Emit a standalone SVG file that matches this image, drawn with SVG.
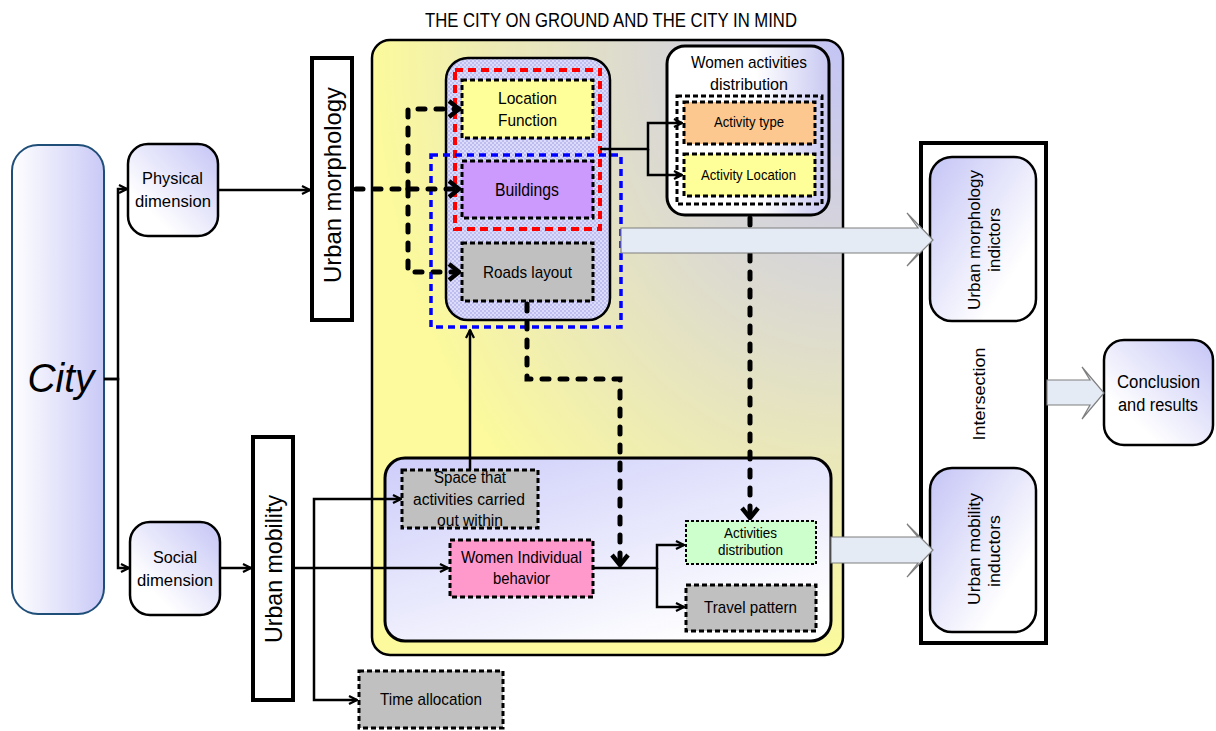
<svg xmlns="http://www.w3.org/2000/svg" width="1216" height="731" viewBox="0 0 1216 731">
  <style>
    .t { font-family: "Liberation Sans Narrow", "Liberation Sans", Arial, sans-serif; fill: #000; text-anchor: middle; }
    .frame { stroke: #000; stroke-width: 2.5; }
    .bar { fill: #fff; stroke: #000; stroke-width: 4; }
    .dn { stroke: #000; stroke-width: 3; stroke-dasharray: 5 3; }
    .thin { fill: none; stroke: #000; stroke-width: 2.5; }
    .thick { fill: none; stroke: #000; stroke-width: 5; stroke-dasharray: 7 11; stroke-linecap: round; }
    .blk { fill: #e4ebf5; stroke: #7f7f7f; stroke-width: 1.2; }
  </style>
  <defs>
    <marker id="ah" viewBox="0 0 10 10" refX="9" refY="5" markerWidth="10" markerHeight="10" markerUnits="userSpaceOnUse" orient="auto">
      <path d="M1,1 L9,5 L1,9" fill="none" stroke="#000" stroke-width="2.2"/>
    </marker>
    <marker id="ahb" viewBox="0 0 14 20" refX="12" refY="10" markerWidth="14" markerHeight="20" markerUnits="userSpaceOnUse" orient="auto">
      <path d="M2,2 L12,10 L2,18" fill="none" stroke="#000" stroke-width="4.5"/>
    </marker>
    <linearGradient id="gCity" x1="0" y1="0" x2="1" y2="0">
      <stop offset="0" stop-color="#ffffff"/>
      <stop offset="1" stop-color="#c9c9f7"/>
    </linearGradient>
    <linearGradient id="gTR" x1="1" y1="0" x2="0" y2="1">
      <stop offset="0" stop-color="#c4c4f6"/>
      <stop offset="0.75" stop-color="#ffffff"/>
    </linearGradient>
    <linearGradient id="gTL" x1="0" y1="0" x2="1" y2="1">
      <stop offset="0" stop-color="#c4c4f6"/>
      <stop offset="0.75" stop-color="#ffffff"/>
    </linearGradient>
    <linearGradient id="gWA" x1="0" y1="0" x2="1" y2="0">
      <stop offset="0" stop-color="#ffffff"/>
      <stop offset="0.55" stop-color="#ffffff"/>
      <stop offset="1" stop-color="#c8c8f2"/>
    </linearGradient>
    <linearGradient id="gLow" x1="0" y1="0" x2="0.7" y2="1">
      <stop offset="0" stop-color="#cdcdfa"/>
      <stop offset="1" stop-color="#ffffff"/>
    </linearGradient>
    <radialGradient id="gMain" cx="1" cy="0" r="1" fx="1" fy="0">
      <stop offset="0" stop-color="#c4c4f6"/>
      <stop offset="0.5" stop-color="#dfddcb"/>
      <stop offset="1" stop-color="#fcfa9c"/>
    </radialGradient>
    <pattern id="hatch" width="4" height="4" patternUnits="userSpaceOnUse">
      <rect width="4" height="4" fill="#bdbdf0"/>
      <rect width="2" height="2" fill="#dcdcfa"/>
      <rect x="2" y="2" width="2" height="2" fill="#dcdcfa"/>
    </pattern>
  </defs>

  <text class="t" x="611" y="27" font-size="20" textLength="372" lengthAdjust="spacingAndGlyphs">THE CITY ON GROUND AND THE CITY IN MIND</text>

  <!-- main container -->
  <g id="city-in-mind">
    <rect x="372" y="40" width="471" height="615" rx="18" fill="url(#gMain)" class="frame"/>
  </g>

  <!-- morphology group -->
  <g id="morphology-group">
    <rect x="446" y="58" width="164" height="262" rx="22" fill="url(#hatch)" class="frame"/>
  </g>
  <g id="location-function">
    <rect x="462" y="80" width="131" height="58" fill="#ffff99" class="dn"/>
    <text class="t" x="527.5" y="104" font-size="17" textLength="59" lengthAdjust="spacingAndGlyphs">Location</text>
    <text class="t" x="527.5" y="125.5" font-size="17" textLength="59" lengthAdjust="spacingAndGlyphs">Function</text>
  </g>
  <g id="buildings">
    <rect x="462" y="161" width="131" height="57" fill="#cc99fc" class="dn"/>
    <text class="t" x="527" y="195.5" font-size="18" textLength="64" lengthAdjust="spacingAndGlyphs">Buildings</text>
  </g>
  <g id="roads-layout">
    <rect x="462" y="243" width="131" height="58" fill="#c0c0c0" class="dn"/>
    <text class="t" x="527.5" y="278" font-size="17" textLength="89" lengthAdjust="spacingAndGlyphs">Roads layout</text>
  </g>
  <rect id="red-frame" x="455" y="70" width="145" height="159" fill="none" stroke="#ff0000" stroke-width="4" stroke-dasharray="8 5"/>
  <rect id="blue-frame" x="431" y="155" width="190" height="172" fill="none" stroke="#0000ff" stroke-width="3.5" stroke-dasharray="7 5"/>

  <!-- women activities distribution -->
  <g id="women-activities">
    <rect x="667" y="46" width="162" height="169" rx="18" fill="url(#gWA)" stroke="#000" stroke-width="3"/>
    <text class="t" x="749" y="68" font-size="17" textLength="116" lengthAdjust="spacingAndGlyphs">Women activities</text>
    <text class="t" x="749" y="90" font-size="17" textLength="78" lengthAdjust="spacingAndGlyphs">distribution</text>
    <rect x="677" y="96" width="145" height="108" fill="none" class="dn"/>
  </g>
  <g id="activity-type">
    <rect x="684" y="102" width="131" height="42" fill="#fcc890" class="dn"/>
    <text class="t" x="749" y="127" font-size="14" textLength="70" lengthAdjust="spacingAndGlyphs">Activity type</text>
  </g>
  <g id="activity-location">
    <rect x="684" y="154" width="131" height="42" fill="#ffff99" class="dn"/>
    <text class="t" x="748.5" y="180" font-size="14" textLength="95" lengthAdjust="spacingAndGlyphs">Activity Location</text>
  </g>

  <!-- mobility group -->
  <g id="mobility-group">
    <rect x="385" y="458" width="446" height="183" rx="20" fill="url(#gLow)" stroke="#000" stroke-width="3"/>
  </g>
  <g id="space-activities">
    <rect x="402" y="470" width="136" height="58" fill="#c0c0c0" class="dn"/>
    <text class="t" x="470" y="483" font-size="16" textLength="72" lengthAdjust="spacingAndGlyphs">Space that</text>
    <text class="t" x="469" y="505" font-size="16" textLength="112" lengthAdjust="spacingAndGlyphs">activities carried</text>
    <text class="t" x="470" y="526" font-size="16" textLength="66" lengthAdjust="spacingAndGlyphs">out within</text>
  </g>
  <g id="women-behavior">
    <rect x="450" y="540" width="143" height="57" fill="#ff99cc" class="dn"/>
    <text class="t" x="521.5" y="563" font-size="17" textLength="121" lengthAdjust="spacingAndGlyphs">Women Individual</text>
    <text class="t" x="521.5" y="584" font-size="17" textLength="57" lengthAdjust="spacingAndGlyphs">behavior</text>
  </g>
  <g id="activities-distribution">
    <rect x="686" y="521" width="130" height="43" fill="#ccffcc" stroke="#000" stroke-width="2" stroke-dasharray="3 2"/>
    <text class="t" x="750.5" y="538" font-size="14" textLength="53" lengthAdjust="spacingAndGlyphs">Activities</text>
    <text class="t" x="750.5" y="555" font-size="14" textLength="65" lengthAdjust="spacingAndGlyphs">distribution</text>
  </g>
  <g id="travel-pattern">
    <rect x="686" y="585" width="130" height="46" fill="#c0c0c0" class="dn"/>
    <text class="t" x="750.5" y="613" font-size="17" textLength="93" lengthAdjust="spacingAndGlyphs">Travel pattern</text>
  </g>
  <g id="time-allocation">
    <rect x="359" y="671" width="144" height="57" fill="#c0c0c0" class="dn"/>
    <text class="t" x="431" y="705" font-size="17" textLength="102" lengthAdjust="spacingAndGlyphs">Time allocation</text>
  </g>

  <!-- left side -->
  <g id="city">
    <rect x="12" y="145" width="92" height="469" rx="26" fill="url(#gCity)" stroke="#1f4e79" stroke-width="2"/>
    <text class="t" x="61" y="392" font-size="41" font-style="italic" textLength="67" lengthAdjust="spacingAndGlyphs">City</text>
  </g>
  <g id="physical-dimension">
    <rect x="128" y="144" width="90" height="92" rx="20" fill="url(#gTR)" class="frame"/>
    <text class="t" x="172.5" y="184" font-size="17" textLength="61" lengthAdjust="spacingAndGlyphs">Physical</text>
    <text class="t" x="173" y="206.5" font-size="17" textLength="76" lengthAdjust="spacingAndGlyphs">dimension</text>
  </g>
  <g id="social-dimension">
    <rect x="130" y="522" width="90" height="93" rx="20" fill="url(#gTR)" class="frame"/>
    <text class="t" x="175" y="563" font-size="17" textLength="44" lengthAdjust="spacingAndGlyphs">Social</text>
    <text class="t" x="175" y="586" font-size="17" textLength="76" lengthAdjust="spacingAndGlyphs">dimension</text>
  </g>
  <g id="urban-morphology">
    <rect x="312" y="58" width="40" height="262" class="bar"/>
    <text class="t" transform="translate(341,185) rotate(-90)" font-size="24" textLength="196" lengthAdjust="spacingAndGlyphs">Urban morphology</text>
  </g>
  <g id="urban-mobility">
    <rect x="253" y="437" width="40" height="263" class="bar"/>
    <text class="t" transform="translate(282,569) rotate(-90)" font-size="24" textLength="148" lengthAdjust="spacingAndGlyphs">Urban mobility</text>
  </g>

  <!-- right side -->
  <g id="intersection">
    <rect x="921" y="143" width="125" height="500" class="bar"/>
    <text class="t" transform="translate(985,394) rotate(-90)" font-size="17" textLength="93" lengthAdjust="spacingAndGlyphs">Intersection</text>
  </g>
  <g id="morphology-indicators">
    <rect x="930" y="157" width="106" height="164" rx="22" fill="url(#gTL)" class="frame"/>
    <text class="t" transform="translate(980,240) rotate(-90)" font-size="17" textLength="140" lengthAdjust="spacingAndGlyphs">Urban morphology</text>
    <text class="t" transform="translate(1000,240) rotate(-90)" font-size="17" textLength="64" lengthAdjust="spacingAndGlyphs">indictors</text>
  </g>
  <g id="mobility-inductors">
    <rect x="930" y="468" width="106" height="164" rx="22" fill="url(#gTL)" class="frame"/>
    <text class="t" transform="translate(980,549) rotate(-90)" font-size="17" textLength="112" lengthAdjust="spacingAndGlyphs">Urban mobility</text>
    <text class="t" transform="translate(1000,551) rotate(-90)" font-size="17" textLength="72" lengthAdjust="spacingAndGlyphs">inductors</text>
  </g>
  <g id="conclusion">
    <rect x="1104" y="340" width="109" height="105" rx="20" fill="url(#gTR)" class="frame"/>
    <text class="t" x="1158.5" y="388" font-size="18" textLength="83" lengthAdjust="spacingAndGlyphs">Conclusion</text>
    <text class="t" x="1158" y="411" font-size="18" textLength="80" lengthAdjust="spacingAndGlyphs">and results</text>
  </g>

  <!-- connectors -->
  <g id="connectors">
    <path class="thin" d="M104,379 H118 V189 H127" marker-end="url(#ah)"/>
    <path class="thin" d="M104,379 H118 V568 H129" marker-end="url(#ah)"/>
    <path class="thin" d="M218,190 H310" marker-end="url(#ah)"/>
    <path class="thin" d="M220,568 H251" marker-end="url(#ah)"/>
    <path class="thin" d="M293,568 H448" marker-end="url(#ah)"/>
    <path class="thin" d="M314,568 V499 H401" marker-end="url(#ah)"/>
    <path class="thin" d="M314,568 V700 H357" marker-end="url(#ah)"/>
    <path class="thin" d="M470,470 V330" marker-end="url(#ah)"/>
    <path class="thin" d="M600,149 H648 V123 H682" marker-end="url(#ah)"/>
    <path class="thin" d="M648,149 V175 H682" marker-end="url(#ah)"/>
    <path class="thin" d="M594,568 H657 V545 H684" marker-end="url(#ah)"/>
    <path class="thin" d="M657,568 V607 H684" marker-end="url(#ah)"/>

    <path class="thick" d="M356,189 H459" marker-end="url(#ahb)"/>
    <path class="thick" d="M408,189 V109 H459" marker-end="url(#ahb)"/>
    <path class="thick" d="M408,189 V272 H459" marker-end="url(#ahb)"/>
    <path class="thick" d="M527,304 V379 H620 V565" marker-end="url(#ahb)"/>
    <path class="thick" d="M750,218 V518" marker-end="url(#ahb)"/>

    <polygon class="blk" points="621,228 918,228 907,213 933,240 907,266 918,253 621,253"/>
    <polygon class="blk" points="831,537 918,537 907,524 933,550 907,577 918,563 831,563"/>
    <polygon class="blk" points="1047,380 1090,380 1082,367 1104,393 1082,419 1090,405 1047,405"/>
  </g>
</svg>
